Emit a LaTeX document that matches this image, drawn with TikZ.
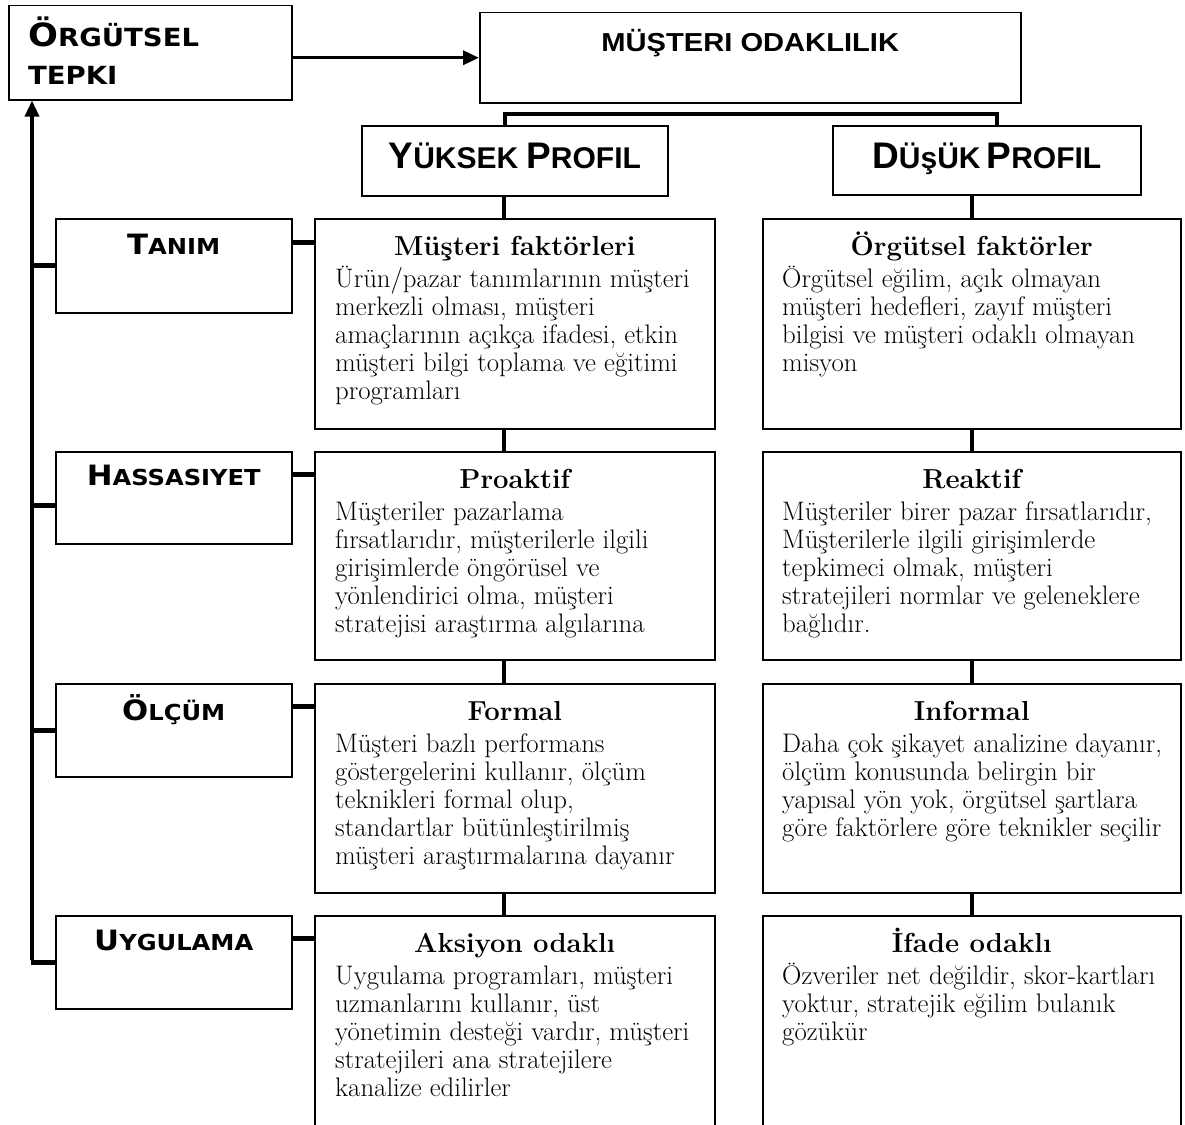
\documentclass[tikz,border=0pt]{standalone}
\usepackage{fontspec}
\newfontfamily\copfont{DejaVu Sans}[FakeStretch=1.1]
\newfontfamily\arialf{Liberation Sans}
\newfontfamily\arialw{Liberation Sans}[FakeStretch=1.12]
\usetikzlibrary{arrows.meta,calc}
\newcommand\labtxt[2]{{\copfont\bfseries{\fontsize{28}{28}\selectfont #1}{\fontsize{22}{22}\selectfont #2}}}
\newcommand\prof[2]{{\fontsize{37}{37}\selectfont #1}{\fontsize{30}{30}\selectfont #2}}
\newcommand\bodytext[1]{\parbox[t]{440pt}{\fontsize{26.8}{28}\selectfont\raggedright #1}}
\tikzset{
  box/.style={draw, line width=1.5pt, inner sep=0pt, anchor=north west},
  head/.style={anchor=base, inner sep=0pt, font=\fontsize{27.5}{28}\selectfont\bfseries},
  btxt/.style={anchor=base west, inner sep=0pt},
  ltxt/.style={anchor=base, inner sep=0pt},
  rowlink/.style={line width=4.5pt},
  stub/.style={line width=5pt},
  spine/.style={line width=3.5pt},
  tip/.style={-{Triangle[length=16pt,width=14pt]}},
}
\begin{document}
\begin{tikzpicture}[x=1pt,y=-1pt]
\useasboundingbox (0,0) rectangle (1185,1124);
% top boxes
\node[box, minimum width=283, minimum height=94] (ot) at (8,5) {};
\node[box, minimum width=541, minimum height=90] (mo) at (479,12) {};
\node[box, minimum width=306, minimum height=70] (yp) at (361,125) {};
\node[box, minimum width=308, minimum height=69] (dp) at (832,125) {};
% left label boxes
\node[box, minimum width=236, minimum height=94] (l1) at (55,218) {};
\node[box, minimum width=236, minimum height=92] (l2) at (55,451) {};
\node[box, minimum width=236, minimum height=93] (l3) at (55,683) {};
\node[box, minimum width=236, minimum height=93] (l4) at (55,915) {};
% middle boxes
\node[box, minimum width=400, minimum height=210] (m1) at (314,218) {};
\node[box, minimum width=400, minimum height=208] (m2) at (314,451) {};
\node[box, minimum width=400, minimum height=209] (m3) at (314,683) {};
\node[box, minimum width=400, minimum height=230] (m4) at (314,915) {};
% right boxes
\node[box, minimum width=418, minimum height=210] (r1) at (762,218) {};
\node[box, minimum width=418, minimum height=208] (r2) at (762,451) {};
\node[box, minimum width=418, minimum height=209] (r3) at (762,683) {};
\node[box, minimum width=418, minimum height=230] (r4) at (762,915) {};

% top texts
\node[anchor=base west, inner sep=0pt] (ott) at (28,47) {\parbox[t]{260pt}{\copfont\bfseries\fontsize{25}{37}\selectfont{\fontsize{32}{37}\selectfont Ö}RGÜTSEL\\TEPKI}};
\node[ltxt] (mot) at ($(mo.north)+(0,40)$) {\arialw\bfseries\fontsize{26}{26}\selectfont MÜŞTERI ODAKLILIK};
\node[ltxt] (ypt) at ($(yp.north)+(0,43)$) {\arialf\bfseries\prof{Y}{ÜKSEK}\hspace{8pt}\prof{P}{ROFIL}};
\node[ltxt] (dpt) at ($(dp.north)+(0,43)$) {\arialf\bfseries\prof{D}{Üş}\prof{}{ÜK}\hspace{6pt}\prof{P}{ROFIL}};

% left labels
\node[ltxt] (l1t) at ($(l1.north)+(0,36)$) {\labtxt{T}{ANIM}};
\node[ltxt] (l2t) at ($(l2.north)+(0,34)$) {\labtxt{H}{ASSASIYET}};
\node[ltxt] (l3t) at ($(l3.north)+(0,37)$) {\labtxt{Ö}{LÇÜM}};
\node[ltxt] (l4t) at ($(l4.north)+(0,35)$) {\labtxt{U}{YGULAMA}};

% middle texts
\node[head] (m1h) at ($(m1.north)+(0,37)$) {Müşteri faktörleri};
\node[btxt] (m1b) at ($(m1.north west)+(21,69)$) {\bodytext{Ürün/pazar tanımlarının müşteri\\merkezli olması, müşteri\\amaçlarının açıkça ifadesi, etkin\\müşteri bilgi toplama ve eğitimi\\programları}};
\node[head] (m2h) at ($(m2.north)+(0,37)$) {Proaktif};
\node[btxt] (m2b) at ($(m2.north west)+(21,69)$) {\bodytext{Müşteriler pazarlama\\fırsatlarıdır, müşterilerle ilgili\\girişimlerde öngörüsel ve\\yönlendirici olma, müşteri\\stratejisi araştırma algılarına}};
\node[head] (m3h) at ($(m3.north)+(0,37)$) {Formal};
\node[btxt] (m3b) at ($(m3.north west)+(21,69)$) {\bodytext{Müşteri bazlı performans\\göstergelerini kullanır, ölçüm\\teknikleri formal olup,\\standartlar bütünleştirilmiş\\müşteri araştırmalarına dayanır}};
\node[head] (m4h) at ($(m4.north)+(0,37)$) {Aksiyon odaklı};
\node[btxt] (m4b) at ($(m4.north west)+(21,69)$) {\bodytext{Uygulama programları, müşteri\\uzmanlarını kullanır, üst\\yönetimin desteği vardır, müşteri\\stratejileri ana stratejilere\\kanalize edilirler}};

% right texts
\node[head] (r1h) at ($(r1.north)+(0,37)$) {Örgütsel faktörler};
\node[btxt] (r1b) at ($(r1.north west)+(20,69)$) {\bodytext{Örgütsel eğilim, açık olmayan\\müşteri hedefleri, zayıf müşteri\\bilgisi ve müşteri odaklı olmayan\\misyon}};
\node[head] (r2h) at ($(r2.north)+(0,37)$) {Reaktif};
\node[btxt] (r2b) at ($(r2.north west)+(20,69)$) {\bodytext{Müşteriler birer pazar fırsatlarıdır,\\Müşterilerle ilgili girişimlerde\\tepkimeci olmak, müşteri\\stratejileri normlar ve geleneklere\\bağlıdır.}};
\node[head] (r3h) at ($(r3.north)+(0,37)$) {Informal};
\node[btxt] (r3b) at ($(r3.north west)+(20,69)$) {\bodytext{Daha çok şikayet analizine dayanır,\\ölçüm konusunda belirgin bir\\yapısal yön yok, örgütsel şartlara\\göre faktörlere göre teknikler seçilir}};
\node[head] (r4h) at ($(r4.north)+(0,37)$) {İfade odaklı};
\node[btxt] (r4b) at ($(r4.north west)+(20,69)$) {\bodytext{Özveriler net değildir, skor-kartları\\yoktur, stratejik eğilim bulanık\\gözükür}};

% connectors
\draw[spine, tip] (ot.east |- mo.west) -- (mo.west);
\draw[line width=3.5pt] ([xshift=-10pt]yp.north) -- ++(0,-11) -| ([xshift=10pt]dp.north);
\draw[rowlink] ([xshift=-11pt]yp.south) -- ([xshift=-11pt]m1.north);
\draw[rowlink] ([xshift=-11pt]m1.south) -- ([xshift=-11pt]m2.north);
\draw[rowlink] ([xshift=-11pt]m2.south) -- ([xshift=-11pt]m3.north);
\draw[rowlink] ([xshift=-11pt]m3.south) -- ([xshift=-11pt]m4.north);
\draw[rowlink] (dp.south -| r1.north) -- (r1.north);
\draw[rowlink] (r1.south) -- (r2.north);
\draw[rowlink] (r2.south) -- (r3.north);
\draw[rowlink] (r3.south) -- (r4.north);
\draw[stub] ($(l1.north east)+(0,24)$) -- ($(m1.north west)+(0,24)$);
\draw[stub] ($(l2.north east)+(0,23)$) -- ($(m2.north west)+(0,23)$);
\draw[stub] ($(l3.north east)+(0,23)$) -- ($(m3.north west)+(0,23)$);
\draw[stub] ($(l4.north east)+(0,23)$) -- ($(m4.north west)+(0,23)$);
\coordinate (sb) at ($(l4.west)+(-23,0)$);
\draw[spine, tip] ([yshift=2pt]sb) -- (sb |- ot.south);
\draw[stub] (l1.west) -- ++(-24.5,0);
\draw[stub] ($(l2.west)+(0,8)$) -- ++(-24.5,0);
\draw[stub] (l3.west) -- ++(-24.5,0);
\draw[stub] (l4.west) -- ++(-24.5,0);
\end{tikzpicture}
\end{document}
